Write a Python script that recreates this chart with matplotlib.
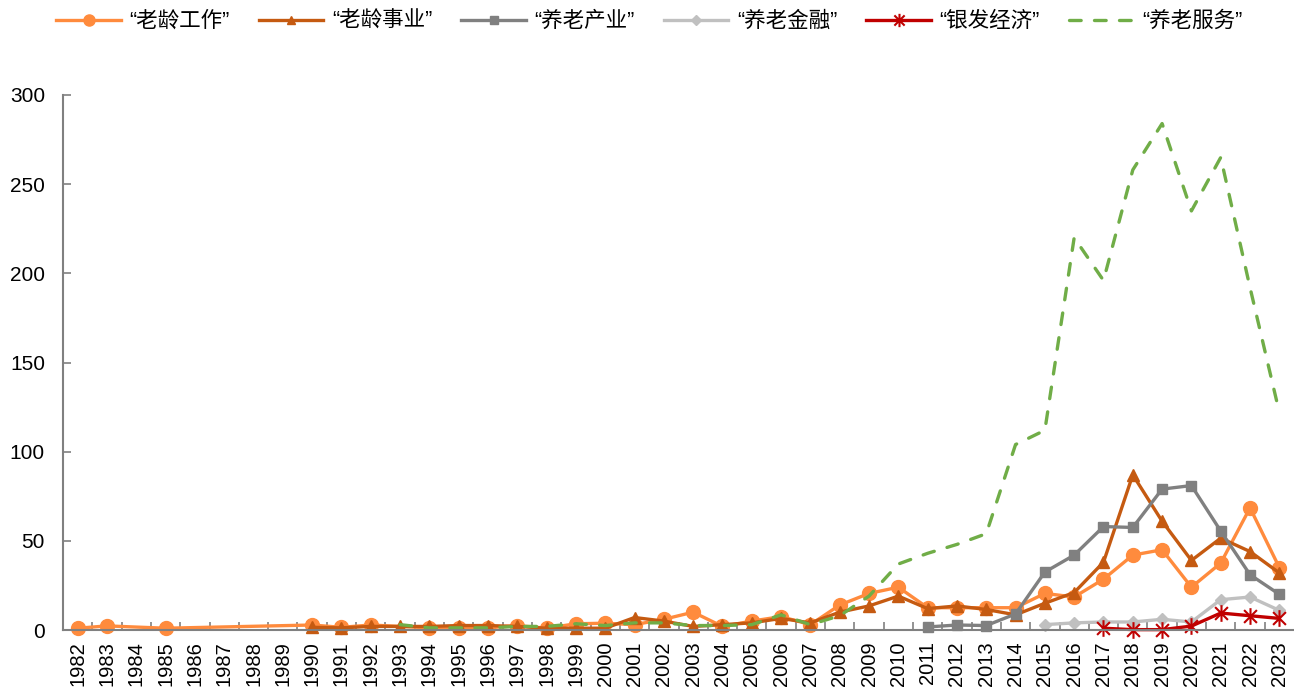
import numpy as np
import matplotlib
matplotlib.use("Agg")
import matplotlib.pyplot as plt
from matplotlib.path import Path
from matplotlib.ticker import FixedLocator

plt.rcParams["font.family"] = ["Liberation Sans", "Noto Sans CJK SC", "DejaVu Sans"]

# ---- data ----
years = list(range(1982, 2024))

# values per year 1982..2023, None = no data that year
laoling_gongzuo = [1, 2.3, None, 1, None, None, None, None,
                   2.8, 1.5, 2.8, None, 1.2, 1.2, 1.2, 2.5, 1, 3.5, 3.8, 3,
                   6, 10, 2, 5, 7.5, 3, 14, 20.5, 24, 12.5,
                   12.5, 12.5, 12.5, 20.5, 18.5, 28.5, 42, 45, 24, 37.5,
                   68.5, 35]
laoling_shiye = [None] * 8 + [1.5, 1.2, 2, 2, 2, 2.5, 2.5, 2, 1, 1, 1, 7,
                              5, 2, 3, 4, 6.5, 4, 10, 13.5, 19, 12,
                              13.5, 11.5, 8.5, 15, 21, 38, 87, 61, 39, 51.5,
                              44, 32]
yanglao_chanye = [None] * 29 + [1.7, 2.8, 2.5, 9, 32.5, 42, 58, 57.5, 79, 81,
                                55.5, 31, 20]
yanglao_jinrong = [None] * 33 + [3, 4, 4.5, 4.5, 6, 4.5, 17, 18.5, 11]
yinfa_jingji = [None] * 35 + [1, 0.2, 0.2, 2.2, 9.5, 8, 6.5]
yanglao_fuwu = [None] * 11 + [3, 1.2, 1.2, 1.2, 2, 2, 3.5, 2.5, 4,
                              4, 2.5, 2.5, 3, 8.5, 3, 8, 19, 37, 43,
                              48, 54, 104, 112, 220, 196, 258, 284, 235, 265,
                              192, 122]

series_names = ["“老龄工作”", "“老龄事业”", "“养老产业”", "“养老金融”", "“银发经济”", "“养老服务”"]
y_ticks = [0, 50, 100, 150, 200, 250, 300]

# Excel-style star marker: an x with a vertical bar
star_path = Path(
    [(-1, -1), (1, 1), (-1, 1), (1, -1), (0, -1.3), (0, 1.3)],
    [Path.MOVETO, Path.LINETO, Path.MOVETO, Path.LINETO, Path.MOVETO, Path.LINETO],
)

styles = [
    dict(color="#FF8B3D", marker="o", markersize=10),
    dict(color="#C55A11", marker="^", markersize=8),
    dict(color="#808080", marker="s", markersize=7),
    dict(color="#C0C0C0", marker="D", markersize=6),
    dict(color="#C00000", marker=star_path, markersize=12, markeredgewidth=1.5),
    dict(color="#70AD47", marker=None, linestyle=(0, (3.5, 4.0)), dash_capstyle="round"),
]

all_series = [laoling_gongzuo, laoling_shiye, yanglao_chanye,
              yanglao_jinrong, yinfa_jingji, yanglao_fuwu]

fig = plt.figure(figsize=(12.94, 6.89), dpi=100)
ax = fig.add_axes([63 / 1294, 59 / 689, 1231 / 1294, 535 / 689])

x_all = np.arange(len(years))
for name, vals, st in zip(series_names, all_series, styles):
    # skip the missing years so the line joins across gaps, like the original
    xs = [x for x, v in zip(x_all, vals) if v is not None]
    ys = [v for v in vals if v is not None]
    ax.plot(xs, ys, label=name, linewidth=2.4, clip_on=False, **st)

ax.set_xlim(-0.5, len(years) - 0.5)
ax.set_ylim(0, 300)
ax.set_yticks(y_ticks)
ax.set_xticks(x_all)
ax.set_xticklabels([str(y) for y in years], rotation=90, fontsize=14.5)
ax.tick_params(axis="x", which="major", length=0, pad=8)
ax.xaxis.set_minor_locator(FixedLocator(np.arange(0.5, len(years) - 0.5, 1)))
ax.tick_params(axis="x", which="minor", direction="in", length=6, color="#808080", width=1.2)
ax.tick_params(axis="y", direction="in", length=6, color="#808080", width=1.2,
               labelsize=15, pad=13)

for side in ["top", "right"]:
    ax.spines[side].set_visible(False)
for side in ["left", "bottom"]:
    ax.spines[side].set_color("#808080")
    ax.spines[side].set_linewidth(1.5)

# narrow Latin quotes first, CJK font for the characters
fig.legend(loc="upper left", bbox_to_anchor=(0.0286, 1.012), ncol=6, frameon=False,
           handlelength=3.0, columnspacing=1.35, handletextpad=0.4, markerscale=0.8,
           prop={"family": ["Liberation Sans", "Noto Sans CJK SC"], "size": 15.5})

fig.savefig("out.png", dpi=100)
